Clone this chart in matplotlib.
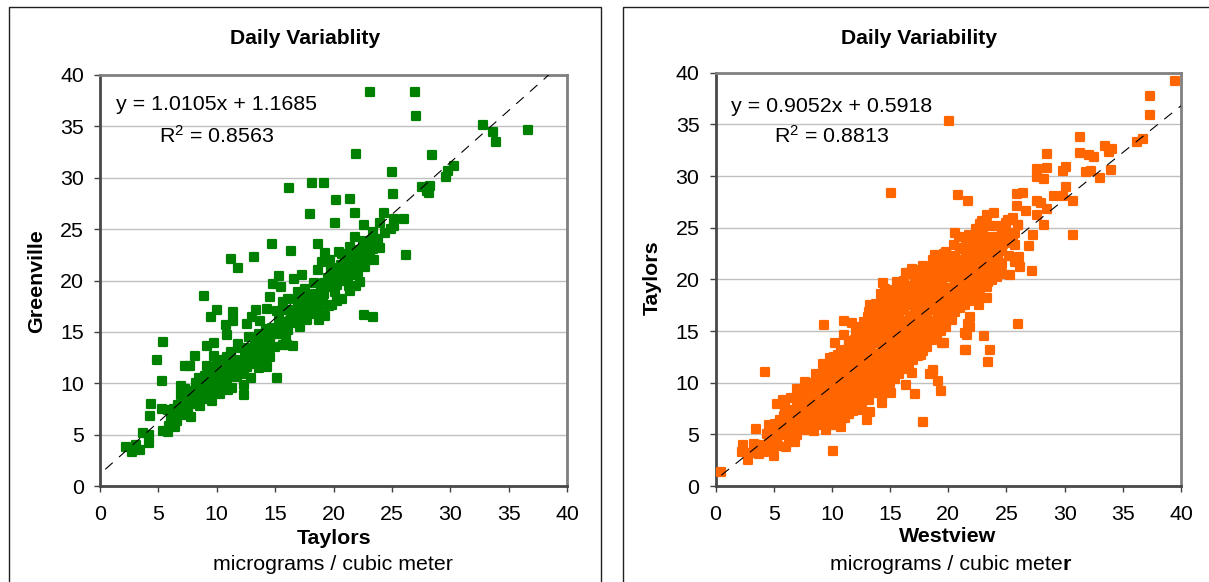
import matplotlib
matplotlib.use("Agg")
import matplotlib.pyplot as plt
from matplotlib.lines import Line2D
from matplotlib.markers import MarkerStyle

W, H = 1209, 582
plt.rcParams['font.family'] = ['Liberation Sans', 'DejaVu Sans']
plt.rcParams['mathtext.default'] = 'regular'

ticks = [0, 5, 10, 15, 20, 25, 30, 35, 40]

# (Taylors, Greenville)
left_sparse = [
 (23.1,38.3),(27.0,38.3),(27.1,36.0),(32.8,35.1),(33.7,34.5),(33.9,33.5),(36.7,34.6),(21.9,32.3),(28.4,32.2),
 (25.0,30.6),(30.3,31.1),(29.8,30.7),(29.6,30.1),(18.2,29.5),(19.2,29.5),(16.2,29.0),(27.6,29.1),(28.3,29.2),(28.0,28.7),(28.2,28.5),
 (25.1,28.4),(20.2,27.8),(21.4,27.9),(21.8,26.6),(18.0,26.5),(20.1,25.6),(24.3,26.6),(24.0,25.6),(25.2,26.0),(26.0,26.0),
 (25.2,25.3),(22.6,25.4),(23.4,24.7),(23.3,23.9),(21.8,24.2),(18.7,23.6),(26.2,22.5),(23.0,23.4),(21.4,23.3),(20.7,22.6),
 (19.3,22.7),(23.1,22.4),(22.3,23.0),(22.4,21.5),(21.1,21.7),(19.7,22.0),(19.0,21.8),(20.6,21.5),(22.7,21.3),
 (14.7,23.6),(16.4,22.9),(11.2,22.1),(11.8,21.2),(13.2,22.3),(21.0,21.7),(18.7,21.0),(20.3,20.7),(15.3,20.4),(17.3,20.5),
 (16.6,20.1),(14.8,19.7),(15.5,19.4),(21.2,20.3),(21.3,19.5),(20.1,18.9),(18.3,19.8),(19.3,19.4),(17.6,19.2),(17.0,18.9),
 (14.6,18.4),(15.7,17.9),(17.8,18.3),(19.1,18.0),(8.9,18.5),(10.0,17.1),(9.5,16.4),(11.4,16.9),(11.4,16.1),(10.8,15.7),
 (10.9,14.7),(13.4,17.1),(14.3,17.2),(12.6,15.8),(13.0,16.4),(13.7,16.1),(15.3,16.3),(16.0,17.1),(16.6,17.0),(17.7,17.1),
 (18.8,16.2),(18.8,17.0),(18.3,16.7),(17.1,15.5),(15.9,14.5),(16.5,13.6),(16.0,13.7),(22.6,16.6),(23.4,16.4),(15.2,10.5),
 (9.8,13.9),(9.2,13.6),(11.8,13.8),(12.8,14.5),(12.3,9.8),(12.3,8.9),(11.3,9.5),(13.4,12.1),(14.3,12.7),(14.6,13.7),
 (5.4,14.0),(4.9,12.3),(5.3,10.2),(8.1,12.7),(7.7,11.7),(7.3,11.7),(4.4,8.0),(4.3,6.8),(3.7,5.2),(2.2,3.8),(2.7,3.3),(3.4,3.5),
 (3.1,4.0),(4.2,4.2),(4.2,5.0),(5.4,5.4),(5.8,5.3),(6.4,5.7),(6.9,9.7),(6.9,8.9),(7.8,6.7),(10.3,9.0),(9.6,8.3),(8.6,7.8),(11.7,10.6),
]
left_dense = [
 (5.3,7.5),(5.8,7.4),(6.3,7.5),(6.1,6.6),(6.6,6.3),(7.0,6.9),(7.2,7.9),(7.6,8.6),(7.3,9.4),(7.9,9.2),(8.3,8.2),(8.4,9.0),(8.7,9.8),(8.5,10.5),(9.0,10.7),
 (9.1,9.4),(9.5,9.1),(9.9,9.7),(9.4,10.1),(9.7,10.9),(10.1,10.6),(10.0,11.7),(10.4,12.3),(10.6,11.2),(10.9,10.2),(11.0,9.3),(11.3,10.7),(11.5,11.4),(10.9,12.6),(11.2,13.0),
 (11.6,12.3),(11.9,11.0),(12.1,11.9),(12.3,10.9),(12.6,11.6),(12.4,12.8),(12.1,13.4),(12.7,13.4),(13.1,12.9),(13.0,11.9),(13.5,13.2),(13.3,14.2),(13.6,14.8),(13.9,13.6),(14.0,12.7),
 (14.3,14.4),(14.2,15.3),(14.7,15.4),(14.6,14.3),(15.0,13.5),(15.1,14.9),(15.4,15.6),(15.2,17.0),(15.6,14.8),(15.8,15.7),(16.1,15.2),(16.3,16.1),(16.1,18.2),(16.7,15.9),(16.9,16.8),
 (17.2,16.4),(17.4,17.6),(17.0,18.0),(17.7,16.2),(18.0,17.5),(18.2,18.5),(18.5,17.8),(18.9,19.1),(19.2,18.7),(19.5,20.2),(19.7,19.4),(19.6,17.5),(20.0,20.4),(20.3,19.6),(20.1,21.2),
 (20.6,20.0),(20.9,21.0),(21.5,21.6),(21.7,22.4),(22.0,22.2),(22.1,20.8),(21.8,20.5),(22.4,22.5),(22.8,22.0),(23.0,23.0),(23.4,23.1),(22.5,23.8),(20.5,22.8),(21.0,22.4),(19.8,21.0),
 (8.0,8.0),(8.9,8.5),(7.5,7.4),(6.7,7.9),(6.5,6.9),(5.9,5.8),(9.3,8.9),(10.5,9.5),(8.2,10.0),(9.2,11.7),(9.8,12.7),(12.9,10.5),(14.0,11.9),(14.6,12.6),(15.7,13.7),
 (10.1,10.0),(10.7,10.5),(10.3,11.0),(11.0,11.8),(11.4,12.0),(11.8,12.0),(12.3,12.2),(12.7,12.4),(13.0,13.3),(13.3,13.0),(13.6,13.9),(14.0,14.2),(14.3,13.5),(14.7,14.8),(15.0,15.3),
 (15.3,14.8),(15.6,15.4),(16.0,16.0),(16.4,16.6),(16.8,17.1),(17.2,17.3),(17.6,17.9),(18.0,18.2),(18.4,18.7),(18.8,18.3),(19.2,19.8),(19.6,20.0),(20.0,19.8),(20.4,20.3),(20.8,20.5),
 (21.2,21.0),(21.6,21.3),(22.0,21.5),(22.4,22.0),(22.7,22.8),(8.8,9.3),(9.4,9.7),(8.0,8.8),(7.6,8.0),(7.1,7.5),
 (23.8,24.0),(24.4,24.6),(24.9,25.0),(23.5,22.0),(24.0,23.2),(22.3,19.9),(21.9,19.5),(21.4,19.0),(20.7,18.2),(20.3,18.0),(19.9,17.6),(19.3,16.5),(13.6,11.5),(14.3,11.6),
]

# (Westview, Taylors)
right_sparse = [
 (39.45,39.2),(37.3,37.7),(37.3,35.9),(36.75,33.6),(36.2,33.3),(20.1,35.3),(31.3,33.8),(33.5,32.9),(34.1,32.6),(33.8,32.3),(31.3,32.2),(32.1,32.0),(32.5,31.8),
 (28.5,32.1),(28.5,30.8),(27.6,30.7),(27.6,29.9),(28.2,29.7),(30.1,30.9),(29.9,30.5),(31.8,30.4),(32.3,30.5),(34.0,30.6),(33.0,29.8),(20.8,28.2),(21.7,27.6),
 (25.9,28.3),(26.4,28.4),(30.1,28.9),(29.1,28.1),(29.9,28.1),(30.7,27.6),(25.9,27.1),(26.7,26.6),(27.6,27.6),(28.0,27.4),(28.5,26.8),(27.6,26.2),(28.2,25.3),
 (30.7,24.3),(27.3,24.3),(26.9,23.2),(27.2,20.8),(25.3,20.4),(26.1,22.2),(25.7,21.7),(26.2,21.2),(23.9,26.4),(23.3,26.2),(22.7,25.4),(25.1,25.7),(25.6,25.9),
 (26.0,25.3),(25.7,24.5),(20.6,24.5),(20.9,24.1),(22.3,23.6),(23.6,24.1),(23.0,24.5),(24.4,24.1),(25.7,23.3),(24.6,22.7),(23.4,22.8),(19.6,22.5),(18.7,21.9),
 (16.5,20.6),(24.3,21.4),(15.05,28.4),(26.0,15.7),(23.1,14.5),(21.4,13.2),(23.6,13.2),(23.4,12.0),(21.7,15.7),(21.4,14.8),(19.5,13.8),(18.7,11.2),(23.3,18.2),
 (22.6,17.5),(21.9,16.4),(20.3,16.1),(0.45,1.4),(2.25,3.3),(2.8,2.5),(5.0,2.9),(10.1,3.4),(4.25,11.0),(9.3,15.6),(11.0,16.0),(11.75,15.8),(17.8,6.2),(10.8,5.7),
 (9.5,5.4),(13.0,6.4),(13.3,7.2),(14.3,8.0),(14.3,8.8),(15.1,9.0),(13.2,8.3),(17.1,8.9),(16.4,9.8),(16.9,10.9),(19.4,9.2),(19.1,10.2),(18.7,11.1),(18.4,10.8),
 (17.7,12.7),(19.6,13.8),(21.5,13.2),(21.6,14.6),(21.9,15.4),(14.4,19.6),(15.6,19.7),(16.4,20.6),(14.2,18.6),(13.2,16.8),(10.3,13.8),(11.0,14.6),(5.3,7.9),
 (5.8,8.3),(3.5,5.5),(2.4,4.0),(4.6,5.9),(7.0,9.4),(7.7,10.1),(8.6,10.8),(9.2,11.8),(9.8,12.4),(6.1,3.8),(6.8,4.3),(7.8,5.4),(8.5,5.3),
]
right_dense = [
 (3.0,3.2),(3.3,4.1),(3.7,3.1),(4.0,4.0),(4.2,3.3),(4.4,5.0),(4.8,4.0),(5.0,5.0),(5.1,6.0),(5.4,3.9),(5.6,4.9),(5.8,5.8),(5.9,6.8),(6.0,7.6),(6.3,4.6),(6.5,5.5),(6.6,6.5),(6.7,7.4),(6.5,8.5),
 (7.0,4.9),(7.2,5.8),(7.3,6.8),(7.4,7.7),(7.3,8.6),(7.9,6.3),(8.0,7.3),(8.1,8.2),(8.0,9.1),(8.2,10.0),(8.7,5.9),(8.8,6.8),(8.9,7.8),(8.8,8.7),(8.9,9.6),(8.7,10.5),(9.3,11.0),
 (9.5,6.2),(9.6,7.2),(9.6,8.1),(9.7,9.1),(9.5,10.1),(9.9,11.3),(10.3,5.9),(10.3,6.9),(10.4,7.8),(10.4,8.8),(10.3,9.7),(10.4,10.7),(10.5,11.7),(10.5,12.7),
 (11.1,6.6),(11.1,7.5),(11.2,8.4),(11.1,9.3),(11.2,10.3),(11.1,11.2),(11.2,12.2),(11.1,13.2),(11.5,14.0),(11.8,7.3),(11.9,8.3),(11.9,9.2),(12.0,10.2),(11.9,11.1),(12.0,12.1),(11.9,13.1),(12.0,14.1),(12.1,15.0),
 (12.6,7.4),(12.7,8.3),(12.6,9.2),(12.7,10.2),(12.7,11.1),(12.6,12.1),(12.7,13.1),(12.7,14.0),(12.6,15.0),(12.8,15.9),(13.4,9.3),(13.4,10.2),(13.5,11.2),(13.4,12.1),(13.4,13.1),(13.5,14.0),(13.4,15.0),(13.5,15.9),(13.3,17.5),(13.6,16.8),
 (14.2,9.6),(14.2,10.5),(14.3,11.5),(14.2,12.4),(14.3,13.4),(14.2,14.3),(14.2,15.3),(14.3,16.2),(14.2,17.2),(14.3,17.9),(15.0,10.0),(15.0,11.0),(15.1,11.9),(15.0,12.9),(15.0,13.8),(15.1,14.8),(15.0,15.7),(15.1,16.7),(15.0,17.6),(15.0,18.6),
 (15.8,10.8),(15.8,11.8),(15.9,12.7),(15.8,13.7),(15.9,14.6),(15.8,15.6),(15.8,16.5),(15.9,17.5),(15.8,18.4),(15.9,19.0),(16.6,11.8),(16.6,12.7),(16.7,13.7),(16.6,14.6),(16.6,15.6),(16.7,16.5),(16.6,17.5),(16.7,18.4),(16.6,19.4),
 (17.4,12.6),(17.4,13.6),(17.5,14.5),(17.4,15.5),(17.4,16.4),(17.5,17.4),(17.4,18.3),(17.4,19.3),(17.5,20.2),(18.2,13.5),(18.2,14.5),(18.3,15.4),(18.2,16.4),(18.2,17.3),(18.3,18.3),(18.2,19.2),(18.2,20.2),(18.3,21.1),
 (19.0,14.7),(19.0,15.6),(19.1,16.6),(19.0,17.5),(19.0,18.5),(19.1,19.4),(19.0,20.4),(19.0,21.2),(19.8,15.4),(19.8,16.4),(19.9,17.3),(19.8,18.3),(19.8,19.2),(19.9,20.2),(19.8,21.1),(19.7,21.9),
 (20.6,16.8),(20.6,17.7),(20.7,18.7),(20.6,19.6),(20.6,20.6),(20.7,21.5),(20.6,22.3),(21.4,17.5),(21.4,18.4),(21.5,19.4),(21.4,20.3),(21.4,21.3),(21.5,22.2),(21.3,23.0),(22.2,18.5),(22.3,19.5),(22.2,20.4),(22.2,21.4),(22.3,22.3),(22.2,23.0),
 (23.0,19.4),(23.1,20.3),(23.0,21.3),(23.0,22.2),(23.1,23.2),(23.0,24.0),(23.8,19.9),(23.9,20.9),(23.8,21.8),(23.8,22.8),(23.9,23.7),(23.7,25.2),(24.6,20.5),(24.6,21.5),(24.7,23.4),(24.6,24.4),(25.2,22.3),(25.0,24.6),
]
right_dense_between = [
 (3.5,3.7),(4.5,3.6),(4.6,4.5),(5.3,4.4),(5.4,5.4),(5.5,6.4),(6.1,5.1),(6.2,6.0),(6.3,7.0),(6.9,5.4),(6.9,6.3),(7.0,7.2),(7.0,8.1),(7.6,5.4),(7.6,6.2),(7.7,7.2),(7.7,8.2),(7.6,9.1),
 (8.4,6.2),(8.4,7.1),(8.5,8.0),(8.4,8.9),(8.5,9.8),(9.2,6.6),(9.2,7.5),(9.3,8.4),(9.2,9.3),(9.3,10.3),(9.9,6.6),(10.0,7.5),(10.0,8.4),(10.0,9.4),(10.0,10.4),(10.1,11.8),(10.2,12.5),
 (10.7,6.4),(10.7,7.3),(10.8,8.2),(10.7,9.2),(10.8,10.2),(10.7,11.2),(10.8,12.1),(10.8,13.0),(11.5,7.0),(11.5,8.0),(11.6,8.9),(11.5,9.8),(11.6,10.8),(11.5,11.7),(11.6,12.7),(11.5,13.6),
 (12.2,7.9),(12.3,8.8),(12.3,9.7),(12.2,10.7),(12.3,11.6),(12.3,12.6),(12.2,13.5),(12.3,14.5),(12.4,15.4),(13.0,8.9),(13.0,9.8),(13.1,10.7),(13.0,11.6),(13.0,12.6),(13.1,13.5),(13.0,14.5),(13.0,15.4),(13.1,16.4),
 (13.8,9.0),(13.8,10.0),(13.9,10.9),(13.8,11.9),(13.8,12.8),(13.9,13.8),(13.8,14.7),(13.8,15.7),(13.9,16.6),(13.8,17.6),(14.6,9.9),(14.6,10.8),(14.7,11.8),(14.6,12.7),(14.6,13.7),(14.7,14.6),(14.6,15.6),(14.6,16.5),(14.7,17.5),(14.6,18.4),(14.6,19.1),
 (15.4,10.4),(15.4,11.4),(15.5,12.3),(15.4,13.3),(15.4,14.2),(15.5,15.2),(15.4,16.1),(15.4,17.1),(15.5,18.0),(15.4,19.0),(16.2,11.3),(16.2,12.2),(16.3,13.2),(16.2,14.1),(16.2,15.1),(16.3,16.0),(16.2,17.0),(16.2,17.9),(16.3,18.9),(16.2,19.8),
 (17.0,12.2),(17.0,13.1),(17.1,14.1),(17.0,15.0),(17.0,16.0),(17.1,16.9),(17.0,17.9),(17.0,18.8),(17.1,19.8),(17.0,20.5),(17.8,13.1),(17.8,14.0),(17.9,15.0),(17.8,15.9),(17.8,16.9),(17.9,17.8),(17.8,18.8),(17.8,19.7),(17.9,20.7),
 (18.6,14.1),(18.6,15.1),(18.7,16.0),(18.6,17.0),(18.6,17.9),(18.7,18.9),(18.6,19.8),(18.6,20.8),(19.4,15.0),(19.4,16.0),(19.5,16.9),(19.4,17.9),(19.4,18.8),(19.5,19.8),(19.4,20.7),(19.4,21.6),
 (20.2,16.4),(20.2,17.3),(20.3,18.3),(20.2,19.2),(20.2,20.2),(20.3,21.1),(20.2,22.1),(21.0,17.2),(21.0,18.1),(21.1,19.1),(21.0,20.0),(21.0,21.0),(21.1,21.9),(21.0,22.9),(21.8,17.9),(21.8,18.9),(21.9,19.8),(21.8,20.8),(21.8,21.7),(21.9,22.7),
 (22.6,18.9),(22.6,19.8),(22.7,20.8),(22.6,21.7),(22.6,22.7),(22.7,23.6),(23.4,19.7),(23.4,20.7),(23.5,21.6),(23.4,22.6),(23.4,23.5),(24.2,20.2),(24.2,21.2),(24.3,22.1),(24.2,23.1),(24.2,25.2),(24.9,23.5),
]
right_dense_upper = [
 (22.7,25.1),(22.4,24.1),(22.1,23.5),(25.4,25.7),(25.0,25.5),(26.0,25.3),(25.0,24.5),(25.6,23.8),(23.4,23.5),(22.1,22.5),(24.2,22.5),(24.4,21.6),(22.7,20.4),(23.3,19.3),(22.7,18.3),
 (19.8,22.6),(20.5,23.3),(21.5,24.0),(18.9,22.4),(17.8,21.3),(17.2,20.9),(16.9,21.0),(21.8,24.3),(22.4,24.9),(22.9,25.6),(23.3,25.3),
]

left_points = left_sparse + left_dense
right_points = right_sparse + right_dense + right_dense_between + right_dense_upper
left_x = [p[0] for p in left_points]
left_y = [p[1] for p in left_points]
right_x = [p[0] for p in right_points]
right_y = [p[1] for p in right_points]

left_fit = (1.0105, 1.1685)
right_fit = (0.9052, 0.5918)
left_fit_range = (0.45, 38.43)
right_fit_range = (0.5, 40.0)

GREEN = '#008000'
ORANGE = '#FF6600'

fig = plt.figure(figsize=(W / 100, H / 100), dpi=100, facecolor='white')


def add_axes(x0, x1, ytop, ybot):
    return fig.add_axes([x0 / W, 1 - ybot / H, (x1 - x0) / W, (ybot - ytop) / H])


def ftext(x, y, s, **kw):
    kw.setdefault('ha', 'center')
    kw.setdefault('va', 'center')
    fig.text(x / W, 1 - y / H, s, color='black', **kw)


def panel(ax, xs, ys, color, fit, fit_range):
    ax.set_xlim(0, 40)
    ax.set_ylim(0, 40)
    ax.set_xticks(ticks)
    ax.set_yticks(ticks)
    ax.tick_params(length=4.5, width=1.0, color='#404040', labelsize=15.4, labelcolor='black')
    ax.tick_params(axis='y', pad=7)
    ax.tick_params(axis='x', pad=9)
    ax.grid(axis='y', color='#c0c0c0', lw=1.0, zorder=1)
    ax.set_axisbelow(True)
    for s in ('top', 'right'):
        ax.spines[s].set_color('#808080')
        ax.spines[s].set_linewidth(2.0)
    for s in ('left', 'bottom'):
        ax.spines[s].set_color('#484848')
        ax.spines[s].set_linewidth(2.0)
    ax.scatter(xs, ys, marker=MarkerStyle('s', joinstyle='round'), s=40, c=color,
               edgecolors=color, linewidths=1.6, zorder=3, clip_on=False)
    m, b = fit
    xa, xb = fit_range
    ax.plot([xa, xb], [m * xa + b, m * xb + b], color='black', lw=0.8,
            dashes=(9, 7.5), zorder=4)


ax1 = add_axes(100, 567, 75, 486)
panel(ax1, left_x, left_y, GREEN, left_fit, left_fit_range)
ax2 = add_axes(715.5, 1181, 72.7, 486)
panel(ax2, right_x, right_y, ORANGE, right_fit, right_fit_range)

ftext(305, 38.5, 'Daily Variablity', fontsize=15.2, fontweight='bold')
ftext(919, 38.5, 'Daily Variability', fontsize=15.2, fontweight='bold')

ftext(216.5, 105, 'y = 1.0105x + 1.1685', fontsize=15.4)
ftext(216.5, 136, 'R$^{2}$ = 0.8563', fontsize=15.4)
ftext(832, 106, 'y = 0.9052x + 0.5918', fontsize=15.4)
ftext(832, 136, 'R$^{2}$ = 0.8813', fontsize=15.4)

ftext(37, 281, 'Greenville', fontsize=15.4, fontweight='bold', rotation=90)
ftext(652, 278, 'Taylors', fontsize=15.4, fontweight='bold', rotation=90)

ftext(334, 538, 'Taylors', fontsize=15.4, fontweight='bold')
ftext(333, 565, 'micrograms / cubic meter', fontsize=15.4)
ftext(948, 536, 'Westview', fontsize=15.4, fontweight='bold')
ftext(1063, 565, 'micrograms / cubic mete', fontsize=15.4, ha='right')
ftext(1063, 565, 'r', fontsize=15.4, ha='left', fontweight='bold')


def frame(xs, ys):
    fig.add_artist(Line2D([x / W for x in xs], [1 - y / H for y in ys],
                          transform=fig.transFigure, color='#202020', lw=1.0,
                          solid_joinstyle='miter', solid_capstyle='butt'))


frame([8.5, 8.5, 601, 601], [582, 6.5, 6.5, 582])
frame([622.7, 622.7, 1209], [582, 6.5, 6.5])

fig.savefig('out.png', dpi=100, facecolor='white')
